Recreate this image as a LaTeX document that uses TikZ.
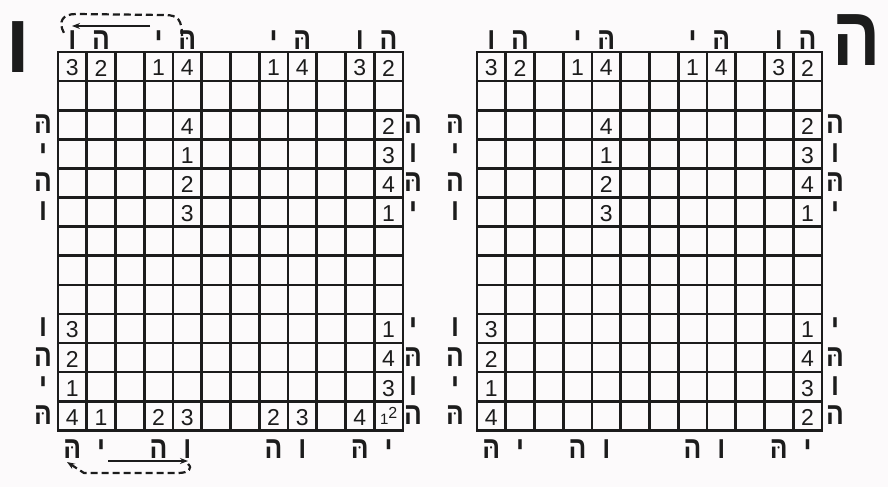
\documentclass[tikz,border=0pt]{standalone}
\usepackage{fontspec}
\setmainfont{Liberation Sans}
\newfontfamily\heb[Script=Hebrew]{Liberation Sans Bold}
\usetikzlibrary{arrows.meta}
\definecolor{ink}{HTML}{1C1C1C}
\definecolor{paper}{HTML}{FCFAFB}
\newcommand{\He}{{\heb ה}}
\newcommand{\Hd}{{\heb הּ}}
\newcommand{\Yo}{{\heb י}}
\newcommand{\Va}{{\heb ו}}
\begin{document}
\begin{tikzpicture}[x=1pt,y=-1pt,
  gridline/.style={draw=ink,line width=2.6pt,line cap=rect},
  num/.style={text=ink,font=\fontsize{23}{23}\selectfont,inner sep=0pt},
  lab/.style={text=ink,font=\fontsize{31}{31}\selectfont,inner sep=0pt,xscale=0.85},
  biglab/.style={text=ink,font=\fontsize{84}{84}\selectfont,inner sep=0pt,
    text height=48pt,text depth=0pt},
  solidarrow/.style={draw=ink,line width=2pt,-{Stealth[length=8pt,width=6pt]}},
  dasharrow/.style={draw=ink,line width=2.2pt,dash pattern=on 7pt off 4pt}]
\fill[paper] (0,0) rectangle (888,487);
\useasboundingbox (0,0) rectangle (888,487);
\def\cw{28.75}
\def\ch{29.1}
% ---------- grids ----------
\foreach \gx/\g in {58/L,477/R}{
  \foreach \i in {0,...,12}{
    \draw[gridline] ({\gx+\i*\cw},52) -- ({\gx+\i*\cw},{52+13*\ch});
  }
  \foreach \j in {0,...,13}{
    \draw[gridline] (\gx,{52+\j*\ch}) -- ({\gx+12*\cw},{52+\j*\ch});
  }
}
% ---------- numbers: left grid ----------
\foreach \r/\c/\t in {1/1/3,1/2/2,1/4/1,1/5/4,1/8/1,1/9/4,1/11/3,1/12/2,
  3/5/4,3/12/2,4/5/1,4/12/3,5/5/2,5/12/4,6/5/3,6/12/1,
  10/1/3,10/12/1,11/1/2,11/12/4,12/1/1,12/12/3,
  13/1/4,13/2/1,13/4/2,13/5/3,13/8/2,13/9/3,13/11/4}{
  \node[num] (nL-\r-\c) at ({58+(\c-0.5)*\cw},{52+(\r-0.45)*\ch}) {\t};
}
\node[num] (nL-13-12) at ({58+11.5*\cw},{52+12.5*\ch})
  {{\fontsize{15}{15}\selectfont 1}\raisebox{6pt}{\fontsize{16}{16}\selectfont 2}};
% ---------- numbers: right grid ----------
\foreach \r/\c/\t in {1/1/3,1/2/2,1/4/1,1/5/4,1/8/1,1/9/4,1/11/3,1/12/2,
  3/5/4,3/12/2,4/5/1,4/12/3,5/5/2,5/12/4,6/5/3,6/12/1,
  10/1/3,10/12/1,11/1/2,11/12/4,12/1/1,12/12/3,
  13/1/4,13/12/2}{
  \node[num] (nR-\r-\c) at ({477+(\c-0.5)*\cw},{52+(\r-0.45)*\ch}) {\t};
}
% ---------- letter labels ----------
\foreach \gx/\g/\lx/\rx in {58/L/43/413,477/R/455/835}{
  % top
  \foreach \c/\t in {1/\Va,2/\He,4/\Yo,5/\Hd,8/\Yo,9/\Hd,11/\Va,12/\He}{
    \node[lab,anchor=base] (t\g-\c) at ({\gx+(\c-0.5)*\cw},50) {\t};
  }
  % bottom
  \foreach \c/\t in {1/\Hd,2/\Yo,4/\He,5/\Va,8/\He,9/\Va,11/\Hd,12/\Yo}{
    \node[lab,anchor=base] (b\g-\c) at ({\gx+(\c-0.5)*\cw},458) {\t};
  }
  % left side
  \foreach \r/\t in {3/\Hd,4/\Yo,5/\He,6/\Va,10/\Va,11/\He,12/\Yo,13/\Hd}{
    \node[lab,anchor=base] (l\g-\r) at (\lx,{52+(\r-0.5)*\ch+8.5}) {\t};
  }
  % right side
  \foreach \r/\t in {3/\He,4/\Va,5/\Hd,6/\Yo,10/\Yo,11/\Hd,12/\Va,13/\He}{
    \node[lab,anchor=base] (r\g-\r) at (\rx,{52+(\r-0.5)*\ch+8.5}) {\t};
  }
}
% ---------- big letters ----------
\node[biglab,anchor=base] (bigV) at (18,72) {\Va};
\node[biglab,anchor=base,xscale=0.85] (bigH) at (857,65) {\He};
% ---------- arrows ----------
\coordinate (ta1) at (150,26);
\coordinate (ta2) at (72,26);
\draw[solidarrow] (ta1) -- (ta2);
\coordinate (td1) at (182,36);
\coordinate (td2) at (64,33);
\draw[dasharrow] (td1) .. controls (182,20) and (178,15) .. (165,15)
  -- (76,14) .. controls (62,14) and (58,22) .. (td2);
\coordinate (ba1) at (108,461);
\coordinate (ba2) at (188,461);
\draw[solidarrow] (ba1) -- (ba2);
\coordinate (bd1) at (188,464);
\coordinate (bd2) at (67,462);
\draw[dasharrow,-{Stealth[length=8pt,width=6pt]}] (bd1) .. controls (193,468) and (189,473) .. (178,473)
  -- (84,473) -- (bd2);
\end{tikzpicture}
\end{document}
